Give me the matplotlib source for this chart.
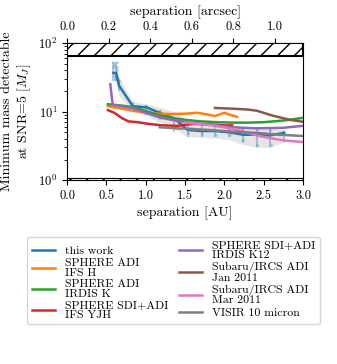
import matplotlib
matplotlib.use("Agg")
import matplotlib.pyplot as plt
import numpy as np

plt.rcParams["font.family"] = "serif"
plt.rcParams["font.serif"] = ["cmr10"]
plt.rcParams["mathtext.fontset"] = "cm"
plt.rcParams["axes.formatter.use_mathtext"] = True
plt.rcParams["hatch.linewidth"] = 1.0

dist_pc = 2.64  # AU per arcsec

# this work
blue_x = [0.59, 0.625, 0.66, 0.835, 1.01, 1.185, 1.36, 1.535, 1.71, 1.885, 2.06, 2.235, 2.41, 2.585, 2.76]
blue_y = [36.5, 36.5, 24.0, 12.0, 11.5, 9.5, 8.0, 5.4, 5.2, 5.2, 5.0, 4.6, 4.6, 4.5, 4.9]
shade_lo = [28, 28, 17, 10, 8.5, 7.0, 5.5, 4.3, 4.2, 4.1, 3.9, 3.3, 3.0, 3.0, 3.6]
shade_hi = [52, 52, 32, 14, 13, 11.5, 10, 7.5, 6.8, 6.8, 6.4, 6.0, 6.0, 5.8, 5.4]
bar_lo = [28, 28, 20, 10.5, 9.0, 7.5, 5.0, 4.2, 4.3, 4.3, 4.2, 3.5, 3.0, 3.0, 3.6]
bar_hi = [53, 53, 30, 13.5, 12.5, 10.5, 8.2, 7.4, 7.0, 6.5, 6.0, 5.8, 6.0, 5.5, 5.2]
dot_x = [0.58, 0.58, 0.58, 0.6, 0.6, 0.61, 0.63, 0.63, 0.64, 0.64, 0.66, 0.67,
         0.83, 0.84, 1.0, 1.01, 1.18, 1.19, 1.36, 1.37, 1.53, 1.54, 1.71, 1.72,
         1.88, 1.89, 2.06, 2.07, 2.23, 2.24, 2.41, 2.42, 2.58, 2.59, 2.76, 2.77]
dot_y = [52, 44, 38, 48, 33, 30, 53, 45, 40, 31, 28, 22,
         13.2, 11.0, 12.2, 9.8, 10.2, 8.2, 8.0, 6.0, 7.0, 4.8, 6.6, 4.7,
         6.3, 4.6, 5.8, 4.5, 5.5, 3.8, 5.6, 3.3, 5.3, 3.3, 5.0, 3.9]

# literature curves
orange_x = [0.52, 0.7, 0.9, 1.1, 1.3, 1.5, 1.65, 1.78, 1.88, 2.0, 2.07, 2.16]
orange_y = [12.0, 11.0, 10.0, 9.4, 9.2, 9.3, 9.6, 9.1, 8.6, 9.6, 9.0, 8.4]
green_x = [0.52, 0.7, 0.84, 1.0, 1.18, 1.35, 1.54, 1.7, 1.9, 2.1, 2.3, 2.5, 2.75, 3.0]
green_y = [12.8, 12.2, 11.6, 10.2, 8.8, 8.0, 7.5, 7.2, 7.0, 6.9, 6.9, 7.0, 7.4, 8.1]
red_x = [0.52, 0.6, 0.7, 0.78, 0.9, 1.0, 1.2, 1.4, 1.5, 1.6, 1.8, 2.0, 2.1]
red_y = [10.5, 9.6, 8.0, 7.2, 7.0, 6.7, 6.3, 6.2, 6.4, 6.6, 6.5, 6.3, 6.3]
purple_x = [0.55, 0.58, 0.84, 1.0, 1.18, 1.35, 1.54, 1.7, 1.9, 2.1, 2.4, 2.75, 3.0]
purple_y = [25.0, 12.6, 11.2, 9.6, 8.2, 7.5, 7.0, 6.7, 6.3, 5.9, 5.7, 5.8, 6.2]
brown_x = [1.88, 2.11, 2.3, 2.41, 2.62, 2.83, 3.0]
brown_y = [11.3, 11.0, 10.7, 10.3, 8.7, 7.6, 7.1]
pink_x = [1.5, 1.7, 1.88, 2.1, 2.28, 2.41, 2.58, 2.75, 3.0]
pink_y = [6.9, 6.6, 6.2, 5.6, 5.0, 4.5, 4.1, 3.8, 3.6]
gray_x = [1.18, 1.4, 1.56, 1.8, 2.11, 2.4, 2.7, 3.0]
gray_y = [5.9, 5.7, 5.6, 5.4, 5.1, 4.9, 4.6, 4.4]

labels = ["this work", "SPHERE ADI\nIFS H", "SPHERE ADI\nIRDIS K", "SPHERE SDI+ADI\nIFS YJH",
          "SPHERE SDI+ADI\nIRDIS K12", "Subaru/IRCS ADI\nJan 2011", "Subaru/IRCS ADI\nMar 2011",
          "VISIR 10 micron"]

fig = plt.figure(figsize=(3.37, 3.64), dpi=100)
ax = fig.add_axes([0.199, 0.505, 0.700, 0.377])

ax.fill_between(blue_x, shade_lo, shade_hi, color="0.6", alpha=0.25, lw=0)
ax.vlines(blue_x, bar_lo, bar_hi, color="C0", alpha=0.35, lw=1.5)
ax.scatter(dot_x, dot_y, s=4, color="C0", alpha=0.3, lw=0)
ax.plot(blue_x, blue_y, color="C0", lw=1.8, label=labels[0])
ax.plot(orange_x, orange_y, color="C1", lw=1.8, label=labels[1])
ax.plot(green_x, green_y, color="C2", lw=1.8, label=labels[2])
ax.plot(red_x, red_y, color="C3", lw=1.8, label=labels[3])
ax.plot(purple_x, purple_y, color="C4", lw=1.8, label=labels[4])
ax.plot(brown_x, brown_y, color="C5", lw=1.8, label=labels[5])
ax.plot(pink_x, pink_y, color="C6", lw=1.8, label=labels[6])
ax.plot(gray_x, gray_y, color="C7", lw=1.8, label=labels[7])

# excluded regions
ax.fill_between([0, 3], 65, 100, facecolor="white", edgecolor="k", hatch="//", lw=1.5, zorder=5)
ax.fill_between([0, 3], 1, 1.08, facecolor="white", edgecolor="k", hatch="//", lw=0.8, zorder=5)

ax.set_yscale("log")
ax.set_xlim(0, 3)
ax.set_ylim(1, 100)
ax.set_xticks([0, 0.5, 1, 1.5, 2, 2.5, 3])
ax.xaxis.set_major_formatter(matplotlib.ticker.FormatStrFormatter("%.1f"))
ax.tick_params(labelsize=9)
ax.set_xlabel("separation [AU]", fontsize=10, labelpad=3)
ax.set_ylabel("Minimum mass detectable\nat SNR=5 [$M_J$]", fontsize=10)

sec = ax.secondary_xaxis("top", functions=(lambda x: x / dist_pc, lambda x: x * dist_pc))
sec.set_xticks([0, 0.2, 0.4, 0.6, 0.8, 1.0])
sec.xaxis.set_major_formatter(matplotlib.ticker.FormatStrFormatter("%.1f"))
sec.tick_params(labelsize=9)
sec.set_xlabel("separation [arcsec]", fontsize=10)

leg = fig.legend(loc="upper left", bbox_to_anchor=(0.062, 0.366), ncol=2, fontsize=8.5,
                 handlelength=2.0, columnspacing=0.9, labelspacing=0.2)
for t in leg.get_texts():
    t.set_linespacing(0.95)

fig.savefig("out.png", dpi=100)
